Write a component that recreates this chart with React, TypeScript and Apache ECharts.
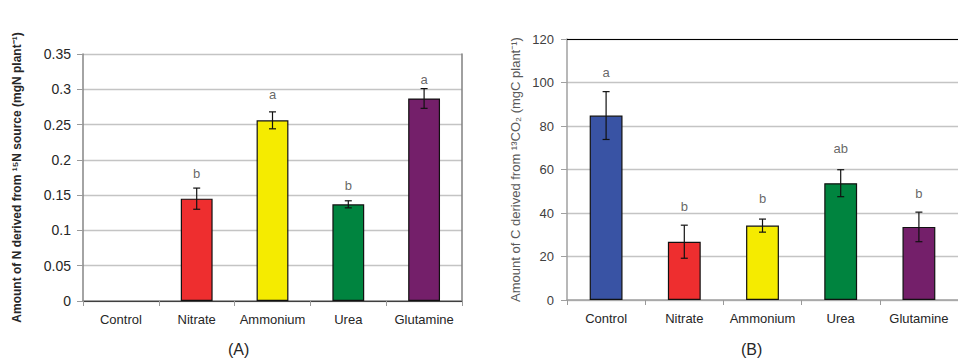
import React, { useEffect, useRef } from "react";
import * as echarts from "echarts";

const categories = ["Control", "Nitrate", "Ammonium", "Urea", "Glutamine"];
const colors = ["#3953A4", "#EE2E2F", "#F5EB00", "#00843F", "#741F6A"];

// Panel A: N derived from 15N source (mgN plant-1)
const nValues = [0, 0.145, 0.256, 0.137, 0.287];
const nErrors = [0, 0.015, 0.012, 0.005, 0.014];
const nLetters = ["", "b", "a", "b", "a"];
const nLetterY = [0, 0.181, 0.2925, 0.163, 0.314];
const nTicks = { min: 0, max: 0.35, interval: 0.05 };

// Panel B: C derived from 13CO2 (mgC plant-1)
const cValues = [84.8, 26.8, 34.2, 53.7, 33.6];
const cErrors = [11, 7.6, 3, 6.2, 6.8];
const cLetters = ["a", "b", "b", "ab", "b"];
const cLetterY = [104.8, 42.9, 46.5, 69.8, 49.1];
const cTicks = { min: 0, max: 120, interval: 20 };

const titleA = "Amount of N derived from ¹⁵N source (mgN plant⁻¹)";
const titleB = "Amount of C derived from ¹³CO₂ (mgC plant⁻¹)";

function errorSeries(values: number[], errors: number[], axisIdx: number, capHalf: number) {
  return {
    type: "custom",
    xAxisIndex: axisIdx,
    yAxisIndex: axisIdx,
    z: 5,
    data: values.map((v, i) => [i, v - errors[i], v + errors[i]]),
    renderItem: (params: any, api: any) => {
      const i = api.value(0);
      const lo = api.value(1);
      const hi = api.value(2);
      if (hi - lo <= 0) return null;
      const pLo = api.coord([i, lo]);
      const pHi = api.coord([i, hi]);
      const style = { stroke: "#111", lineWidth: 1.2 };
      return {
        type: "group",
        children: [
          { type: "line", shape: { x1: pLo[0], y1: pLo[1], x2: pHi[0], y2: pHi[1] }, style },
          { type: "line", shape: { x1: pHi[0] - capHalf, y1: pHi[1], x2: pHi[0] + capHalf, y2: pHi[1] }, style },
          { type: "line", shape: { x1: pLo[0] - capHalf, y1: pLo[1], x2: pLo[0] + capHalf, y2: pLo[1] }, style },
        ],
      };
    },
  };
}

function letterSeries(letters: string[], ys: number[], axisIdx: number) {
  return {
    type: "scatter",
    xAxisIndex: axisIdx,
    yAxisIndex: axisIdx,
    symbolSize: 0,
    z: 6,
    data: letters
      .map((l, i) => ({ name: l, value: [i, ys[i]] }))
      .filter((d) => d.name !== ""),
    label: {
      show: true,
      position: "inside",
      formatter: "{b}",
      fontFamily: "Liberation Sans",
      fontSize: 13,
      color: "#404040",
    },
  };
}

function barData(values: number[]) {
  return values.map((v, i) => ({
    value: v,
    itemStyle: { color: colors[i], borderWidth: v === 0 ? 0 : 1.2 },
  }));
}

export default function App() {
  const ref = useRef<HTMLDivElement>(null);
  useEffect(() => {
    if (!ref.current) return;
    const chart = echarts.init(ref.current, undefined, { renderer: "svg" });
    const catAxisBase = {
      type: "category",
      data: categories,
      boundaryGap: true,
      axisTick: { show: true, length: 5, lineStyle: { color: "#9a9a9a" } },
      axisLabel: { interval: 0, fontFamily: "Liberation Sans", fontSize: 13, color: "#262626", margin: 12 },
    };
    chart.setOption({
      animation: false,
      backgroundColor: "#ffffff",
      grid: [
        { left: 83, top: 54, width: 379, height: 247 },
        { left: 567, top: 39, width: 397, height: 261 },
      ],
      xAxis: [
        { ...catAxisBase, gridIndex: 0, axisLine: { lineStyle: { color: "#868686", width: 1.5 } } },
        { ...catAxisBase, gridIndex: 1, axisLine: { lineStyle: { color: "#a0a0a0", width: 1.5 } } },
        {
          type: "category", data: categories, gridIndex: 0, position: "top",
          axisLine: { show: true, lineStyle: { color: "#404040", width: 1.2 } },
          axisTick: { show: false }, axisLabel: { show: false },
        },
        {
          type: "category", data: categories, gridIndex: 1, position: "top",
          axisLine: { show: true, lineStyle: { color: "#000", width: 1.2 } },
          axisTick: { show: false }, axisLabel: { show: false },
        },
      ],
      yAxis: [
        {
          type: "value", gridIndex: 0, ...nTicks,
          axisLine: { show: true, lineStyle: { color: "#868686", width: 1.5 } },
          axisTick: { show: true, length: 6, lineStyle: { color: "#9a9a9a" } },
          splitLine: { lineStyle: { color: "#c4c4c4", width: 1.3 } },
          axisLabel: { fontFamily: "Liberation Sans", fontSize: 14, color: "#262626", margin: 12 },
          name: titleA, nameLocation: "middle", nameGap: 60, nameRotate: 90,
          nameTextStyle: { fontFamily: "Liberation Sans", fontWeight: "bold", fontSize: 12, color: "#262626" },
        },
        {
          type: "value", gridIndex: 1, ...cTicks,
          axisLine: { show: true, lineStyle: { color: "#a0a0a0", width: 1.5 } },
          axisTick: { show: true, length: 6, lineStyle: { color: "#a0a0a0" } },
          splitLine: { lineStyle: { color: "#c4c4c4", width: 1.3 } },
          axisLabel: { fontFamily: "Liberation Sans", fontSize: 13, color: "#404040", margin: 13 },
          name: titleB, nameLocation: "middle", nameGap: 45, nameRotate: 90,
          nameTextStyle: { fontFamily: "Liberation Sans", fontSize: 13, color: "#595959" },
        },
        {
          type: "value", gridIndex: 0, position: "right", ...nTicks,
          axisLine: { show: true, lineStyle: { color: "#808080", width: 1.5 } },
          axisTick: { show: false }, axisLabel: { show: false }, splitLine: { show: false },
        },
      ],
      series: [
        {
          type: "bar", xAxisIndex: 0, yAxisIndex: 0, barWidth: "42%",
          data: barData(nValues),
          itemStyle: { borderColor: "#111" },
        },
        {
          type: "bar", xAxisIndex: 1, yAxisIndex: 1, barWidth: "42%",
          data: barData(cValues),
          itemStyle: { borderColor: "#111" },
        },
        errorSeries(nValues, nErrors, 0, 3.5),
        errorSeries(cValues, cErrors, 1, 3.5),
        letterSeries(nLetters, nLetterY, 0),
        letterSeries(cLetters, cLetterY, 1),
      ],
      graphic: [
        { type: "text", left: 228, top: 341, style: { text: "(A)", fontFamily: "Liberation Sans", fontSize: 16, fill: "#262626" } },
        { type: "text", left: 741, top: 341, style: { text: "(B)", fontFamily: "Liberation Sans", fontSize: 16, fill: "#262626" } },
      ],
    });
    return () => chart.dispose();
  }, []);
  return <div ref={ref} style={{ width: 958, height: 358, position: "absolute", left: 0, top: 0 }} />;
}
